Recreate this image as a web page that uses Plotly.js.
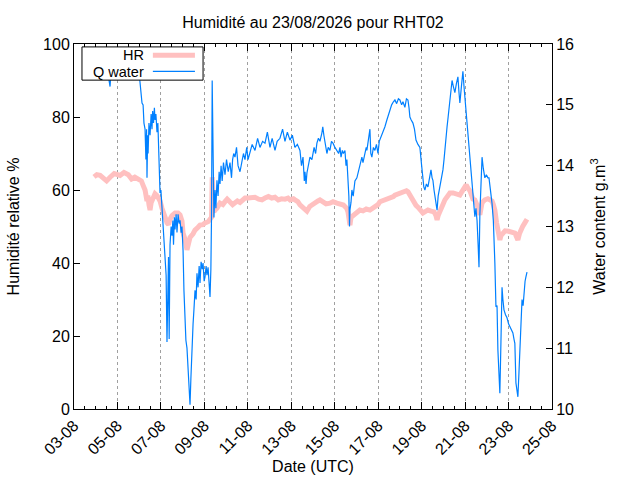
<!DOCTYPE html>
<html>
<head>
<meta charset="utf-8">
<script src="https://cdn.plot.ly/plotly-3.0.1.min.js"></script>
<style>
  html, body { margin: 0; padding: 0; background: #fff; }
  #chart { width: 640px; height: 480px; }
</style>
</head>
<body>
<div id="chart"></div>
<script>
// times are day-of-August 2026 (UTC), fractional
var qDays = [3.92,4.05,4.20,4.35,4.50,4.62,4.66,4.70,4.90,5.12,5.35,5.58,5.80,5.99,6.04,6.10,6.13,6.18,6.22,6.27,
  6.31,6.34,6.36,6.39,6.41,6.45,6.50,6.55,6.59,6.62,6.66,6.70,6.73,6.77,6.82,6.86,6.90,6.96,7.00,7.05,
  7.10,7.14,7.19,7.24,7.28,7.31,7.35,7.38,7.42,7.47,7.51,7.55,7.58,7.62,7.65,7.70,7.74,7.79,7.84,7.88,
  7.93,7.97,8.02,8.06,8.11,8.15,8.20,8.25,8.29,8.34,8.38,8.43,8.48,8.52,8.57,8.62,8.66,8.71,8.76,8.80,
  8.85,8.90,8.94,8.99,9.03,9.08,9.12,9.17,9.22,9.26,9.30,9.33,9.36,9.40,9.44,9.49,9.53,9.58,9.63,9.68,
  9.72,9.77,9.82,9.88,9.95,10.02,10.10,10.18,10.25,10.30,10.35,10.41,10.48,10.55,10.64,10.72,10.80,10.87,10.95,11.01,
  11.10,11.20,11.33,11.45,11.56,11.68,11.79,11.90,12.02,12.12,12.25,12.35,12.48,12.60,12.71,12.82,12.94,13.05,13.17,13.28,
  13.40,13.47,13.54,13.60,13.63,13.68,13.72,13.80,13.86,13.95,14.05,14.12,14.18,14.25,14.32,14.41,14.45,14.50,14.55,14.60,
  14.64,14.70,14.78,14.85,14.92,15.01,15.10,15.18,15.24,15.29,15.35,15.40,15.47,15.52,15.56,15.61,15.65,15.68,15.70,15.75,
  15.79,15.85,15.93,16.02,16.08,16.16,16.25,16.30,16.39,16.45,16.48,16.55,16.62,16.66,16.71,16.78,16.85,16.92,16.99,17.05,
  17.13,17.20,17.31,17.40,17.48,17.54,17.62,17.70,17.77,17.85,17.93,18.00,18.08,18.14,18.23,18.30,18.37,18.42,18.46,18.52,
  18.60,18.67,18.74,18.83,18.92,19.00,19.06,19.10,19.15,19.22,19.29,19.36,19.43,19.48,19.52,19.57,19.61,19.66,19.71,19.76,
  19.84,19.92,19.98,20.03,20.07,20.12,20.17,20.22,20.26,20.32,20.40,20.46,20.53,20.60,20.67,20.72,20.76,20.83,20.90,20.95,
  20.99,21.05,21.09,21.16,21.22,21.30,21.36,21.41,21.45,21.50,21.55,21.60,21.64,21.68,21.73,21.78,21.84,21.91,21.98,22.05,
  22.10,22.17,22.24,22.30,22.33,22.37,22.42,22.47,22.51,22.56,22.60,22.65,22.70,22.74,22.79,22.86,22.93,23.00,23.07,23.14,
  23.20,23.25,23.29,23.34,23.38,23.43,23.48,23.53,23.57,23.62,23.67,23.71,23.76,23.80,23.85];
var qWater = [15.6,15.5,15.7,15.55,15.65,15.4,15.3,15.55,15.7,15.6,15.75,15.6,15.7,15.55,15.4,15.2,15.03,15.0,14.7,14.6,
  14.1,14.6,13.8,14.5,14.2,14.7,14.5,14.85,14.6,14.9,14.7,14.95,14.75,14.85,14.55,14.7,14.3,13.55,13.6,13.3,
  13.15,12.8,12.6,12.2,11.1,12.2,12.5,11.15,12.7,13.0,12.85,13.1,12.7,13.15,12.95,13.2,12.9,13.2,13.05,13.1,
  12.9,13.0,12.6,11.95,11.5,11.13,11.0,10.64,10.3,10.07,10.5,11.13,11.4,11.63,11.95,11.8,12.23,12.0,12.35,12.07,
  12.42,12.3,12.4,12.1,12.17,12.35,12.2,12.33,12.05,11.84,12.3,13.2,15.4,14.4,13.15,13.6,13.3,13.76,13.5,13.9,
  13.7,14.0,13.75,14.05,13.85,14.1,13.9,14.05,13.8,14.1,14.2,14.14,14.3,14.0,13.9,14.05,14.2,14.1,14.3,14.1,
  14.2,14.35,14.25,14.45,14.3,14.4,14.37,14.55,14.3,14.45,14.25,14.4,14.45,14.6,14.4,14.55,14.42,14.5,14.3,14.35,
  14.25,14.0,14.14,13.75,13.9,13.7,13.88,14.0,14.14,14.1,14.3,14.2,14.37,14.45,14.4,14.54,14.64,14.5,14.4,14.3,
  14.2,14.3,14.25,14.4,14.37,14.3,14.25,14.2,14.3,14.14,14.25,14.2,14.25,14.0,14.1,13.8,13.5,13.0,13.27,13.4,
  13.6,13.5,13.75,13.8,13.9,14.0,14.14,14.05,14.2,14.3,14.25,14.4,14.6,14.2,14.14,14.3,14.25,14.35,14.2,14.4,
  14.47,14.55,14.64,14.75,14.85,14.92,15.0,15.05,15.08,15.02,15.1,15.08,15.0,15.05,14.96,15.1,15.08,14.95,14.8,14.75,
  14.7,14.6,14.42,14.35,14.3,14.0,13.76,13.65,13.6,13.7,13.65,13.8,13.93,13.8,13.76,13.6,13.5,13.35,13.27,13.5,
  13.65,13.8,13.93,14.1,14.3,14.5,14.64,14.8,14.96,15.2,15.4,15.3,15.2,15.35,15.46,15.2,15.03,15.3,15.55,15.3,
  15.13,14.9,14.75,14.4,14.14,13.9,13.65,13.4,13.16,13.3,13.1,12.7,12.33,13.2,13.9,14.14,13.95,13.8,13.85,13.8,
  13.8,13.6,13.38,13.1,12.6,12.4,11.68,11.7,10.97,10.6,10.26,11.1,12.0,11.8,11.63,11.55,11.5,11.4,11.35,11.3,
  11.25,11.15,11.08,10.43,10.3,10.2,10.6,11.1,11.63,11.8,11.7,11.9,12.1,12.17,12.25];

var hrDays = [3.92,4.05,4.20,4.35,4.50,4.66,4.85,5.12,5.30,5.50,5.65,5.80,5.99,6.10,6.20,6.27,6.36,6.40,6.45,6.50,
  6.55,6.64,6.73,6.82,6.96,7.05,7.10,7.19,7.28,7.35,7.42,7.51,7.65,7.79,7.88,7.97,8.02,8.11,8.20,8.25,
  8.34,8.48,8.57,8.71,8.80,8.94,9.03,9.17,9.26,9.33,9.36,9.40,9.44,9.49,9.58,9.72,9.85,9.95,10.05,10.18,
  10.30,10.41,10.52,10.64,10.75,10.87,11.01,11.15,11.33,11.50,11.65,11.79,11.95,12.10,12.25,12.40,12.55,12.71,12.85,12.94,
  13.10,13.17,13.30,13.40,13.55,13.63,13.72,13.85,13.95,14.10,14.23,14.32,14.45,14.60,14.78,14.92,15.10,15.24,15.40,15.55,
  15.61,15.66,15.70,15.75,15.85,16.02,16.16,16.30,16.45,16.62,16.78,16.85,16.99,17.08,17.31,17.54,17.70,17.77,17.95,18.14,
  18.30,18.37,18.46,18.55,18.65,18.74,18.83,18.95,19.06,19.20,19.29,19.43,19.57,19.66,19.71,19.76,19.84,19.98,20.07,20.20,
  20.30,20.45,20.53,20.65,20.76,20.85,20.95,21.05,21.13,21.22,21.36,21.45,21.55,21.60,21.68,21.78,21.91,22.05,22.15,22.24,
  22.30,22.37,22.45,22.51,22.60,22.65,22.75,22.84,23.00,23.10,23.20,23.29,23.38,23.43,23.50,23.57,23.65,23.75,23.85];
var hrValues = [63.6,64.2,64.0,63.0,62.5,63.5,64.5,64.0,64.8,64.2,63.0,63.5,62.7,62.5,61.0,60.0,57.0,58.5,56.0,54.5,
  56.5,58.0,59.0,58.5,57.0,55.0,53.7,52.6,51.0,50.5,52.0,53.0,53.7,53.7,53.2,51.5,48.2,46.5,43.6,44.5,
  47.0,48.0,49.0,49.8,50.4,50.5,51.0,51.3,51.8,52.5,63.5,58.0,54.0,54.5,55.0,56.4,56.0,56.8,57.5,56.7,
  56.0,56.5,57.0,56.6,57.3,57.8,57.8,58.0,58.0,57.5,57.3,57.8,58.2,57.8,58.0,57.3,57.6,57.5,57.8,57.3,
  57.6,57.3,56.8,55.9,55.0,54.5,54.2,55.5,56.0,56.5,57.0,57.3,56.8,56.2,56.4,56.8,56.4,56.0,55.9,55.0,
  54.0,52.0,50.4,52.5,53.0,53.8,54.5,54.3,54.8,54.5,55.0,55.3,56.0,56.8,57.2,57.8,58.2,58.6,59.0,59.5,
  59.8,59.5,58.5,57.3,56.5,55.8,55.3,54.5,53.7,54.2,54.5,54.2,54.0,53.0,51.8,53.0,54.5,56.0,57.3,58.5,
  59.2,59.2,59.0,58.6,58.6,59.5,60.5,61.4,60.5,59.8,57.5,57.3,55.9,54.5,53.2,56.5,57.3,57.6,57.3,57.0,
  56.0,54.5,51.0,49.0,46.3,47.5,48.5,48.8,48.7,48.5,48.6,48.2,47.0,46.3,48.0,49.5,50.0,51.0,52.0];

var xTickStart = '2026-08-03';
var xTickEnd = '2026-08-25';

function toDate(d) {
  var t = new Date(Date.UTC(2026, 7, 1) + (d - 1) * 86400000);
  return t.toISOString().slice(0, 19).replace('T', ' ');
}

var font = 'Liberation Sans, Arial, sans-serif';
var fs = 16;
var hrColor = '#ffc0c0';
var qColor = '#0080ff';

var hrTrace = {
  x: hrDays.map(toDate), y: hrValues,
  type: 'scatter', mode: 'lines', name: 'HR',
  line: { color: hrColor, width: 5 },
  yaxis: 'y'
};
var qTrace = {
  x: qDays.map(toDate), y: qWater,
  type: 'scatter', mode: 'lines', name: 'Q water',
  line: { color: qColor, width: 1.2 },
  yaxis: 'y2'
};

var DAY = 86400000;

var layout = {
  width: 640, height: 480,
  margin: { l: 74, r: 88, t: 44, b: 71 },
  paper_bgcolor: '#fff', plot_bgcolor: '#fff',
  font: { family: font, size: fs, color: '#000' },
  showlegend: false,
  title: {
    text: 'Humidité au 23/08/2026 pour RHT02',
    xref: 'paper', yref: 'container',
    x: 0.5, y: 0.954, xanchor: 'center', yanchor: 'middle',
    font: { family: font, size: fs, color: '#000' }
  },
  xaxis: {
    type: 'date',
    range: [xTickStart, xTickEnd],
    tick0: xTickStart, dtick: 2 * DAY,
    tickformat: '%d-%m', tickangle: -45,
    ticks: 'inside', ticklen: 7, tickcolor: '#000',
    minor: { dtick: DAY / 2, ticks: 'inside', ticklen: 3, tickcolor: '#000', showgrid: false },
    showline: true, linecolor: '#000', linewidth: 1, mirror: 'ticks',
    showgrid: true, gridcolor: '#a0a0a0', griddash: 'dot', gridwidth: 1,
    zeroline: false,
    title: { text: 'Date (UTC)', font: { family: font, size: fs }, standoff: 2 }
  },
  yaxis: {
    range: [0, 100], dtick: 20,
    ticks: 'inside', ticklen: 6, tickcolor: '#000',
    showline: true, linecolor: '#000', linewidth: 1,
    showgrid: false, zeroline: false,
    title: { text: 'Humidité relative %', font: { family: font, size: fs }, standoff: 19 }
  },
  yaxis2: {
    range: [10, 16], dtick: 1,
    overlaying: 'y', side: 'right',
    ticks: 'inside', ticklen: 6, tickcolor: '#000',
    showline: true, linecolor: '#000', linewidth: 1,
    showgrid: false, zeroline: false,
    title: { text: 'Water content g.m<sup>3</sup>', font: { family: font, size: fs }, standoff: 20 }
  },
  shapes: [
    { type: 'rect', xref: 'paper', yref: 'paper', x0: 0.0167, x1: 0.27, y0: 0.901, y1: 0.992,
      fillcolor: '#fff', line: { color: '#000', width: 1 }, layer: 'above' },
    { type: 'line', xref: 'paper', yref: 'paper', x0: 0.165, x1: 0.253, y0: 0.969, y1: 0.969,
      line: { color: hrColor, width: 5 }, layer: 'above' },
    { type: 'line', xref: 'paper', yref: 'paper', x0: 0.165, x1: 0.253, y0: 0.925, y1: 0.925,
      line: { color: qColor, width: 1.2 }, layer: 'above' }
  ],
  annotations: [
    { text: 'HR', xref: 'paper', yref: 'paper', x: 0.1485, y: 0.970, xanchor: 'right', yanchor: 'middle',
      showarrow: false, font: { family: font, size: 14.5 }, borderpad: 0 },
    { text: 'Q water', xref: 'paper', yref: 'paper', x: 0.1485, y: 0.923, xanchor: 'right', yanchor: 'middle',
      showarrow: false, font: { family: font, size: 14.5 }, borderpad: 0 }
  ]
};

Plotly.newPlot('chart', [hrTrace, qTrace], layout, { staticPlot: true, displayModeBar: false });
</script>
</body>
</html>
